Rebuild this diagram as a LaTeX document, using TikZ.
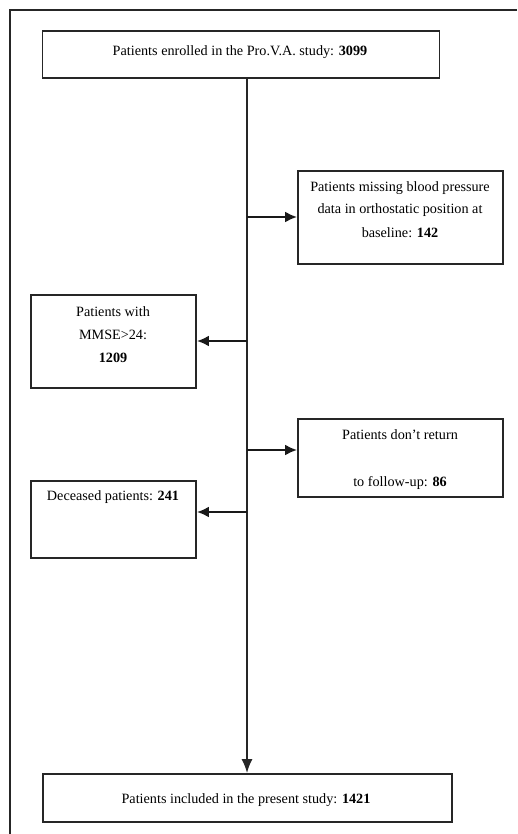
\documentclass[tikz,border=0pt]{standalone}
\usepackage{fontspec}
\setmainfont{Liberation Serif}
\usetikzlibrary{arrows.meta}
\begin{document}
\begin{tikzpicture}[x=1pt,y=-1pt,
  box/.style={draw=black!85,line width=1.9pt,rectangle,inner sep=0pt},
  txt/.style={font=\fontsize{14.2}{17}\selectfont,inner sep=0pt,align=center},
  flow/.style={draw=black!85,line width=1.6pt},
  arr/.style={draw=black!90,line width=2.2pt,-{Latex[length=12pt,width=11pt]}}]
\useasboundingbox (0,0) rectangle (517,834);
% outer frame
\coordinate (fTL) at (10,10);
\coordinate (fTR) at (517,10);
\coordinate (fBL) at (10,834);
\draw[draw=black!85,line width=2.2pt] (fTR) -- (fTL) -- (fBL);
% boxes
\node[box,minimum width=397pt,minimum height=47pt] (b1) at (241,54.5) {};
\node[box,minimum width=205pt,minimum height=93pt] (b2) at (400.5,217.5) {};
\node[box,minimum width=165pt,minimum height=93pt] (b3) at (113.5,341.5) {};
\node[box,minimum width=205pt,minimum height=78pt] (b4) at (400.5,458) {};
\node[box,minimum width=165pt,minimum height=77pt] (b5) at (113.5,519.5) {};
\node[box,minimum width=409pt,minimum height=48pt] (b6) at (247.5,798) {};
% texts
\node[txt] (t1) at (240,52) {Patients enrolled in the Pro.V.A. study: \textbf{3099}};
\node[txt] (t2a) at (400,188) {Patients missing blood pressure};
\node[txt] (t2b) at (400,210) {data in orthostatic position at};
\node[txt] (t2c) at (400,233) {baseline: \textbf{142}};
\node[txt] (t3a) at (113,312) {Patients with};
\node[txt] (t3b) at (113,335) {MMSE>24:};
\node[txt] (t3c) at (113,358) {\textbf{1209}};
\node[txt] (t4a) at (400,435) {Patients don’t return};
\node[txt] (t4b) at (400,483) {to follow-up: \textbf{86}};
\node[txt] (t5) at (113,497) {Deceased patients: \textbf{241}};
\node[txt] (t6) at (246,800) {Patients included in the present study: \textbf{1421}};
% main line
\coordinate (top) at (247,78);
\coordinate (j2) at (247,217);
\coordinate (j3) at (247,341);
\coordinate (j4) at (247,450);
\coordinate (j5) at (247,512);
\draw[flow,-{Latex[length=14pt,width=11pt]}] (top) -- (top |- b6.north);
\draw[arr] (j2) -- (j2 -| b2.west);
\draw[arr] (j3) -- (j3 -| b3.east);
\draw[arr] (j4) -- (j4 -| b4.west);
\draw[arr] (j5) -- (j5 -| b5.east);
\end{tikzpicture}
\end{document}
